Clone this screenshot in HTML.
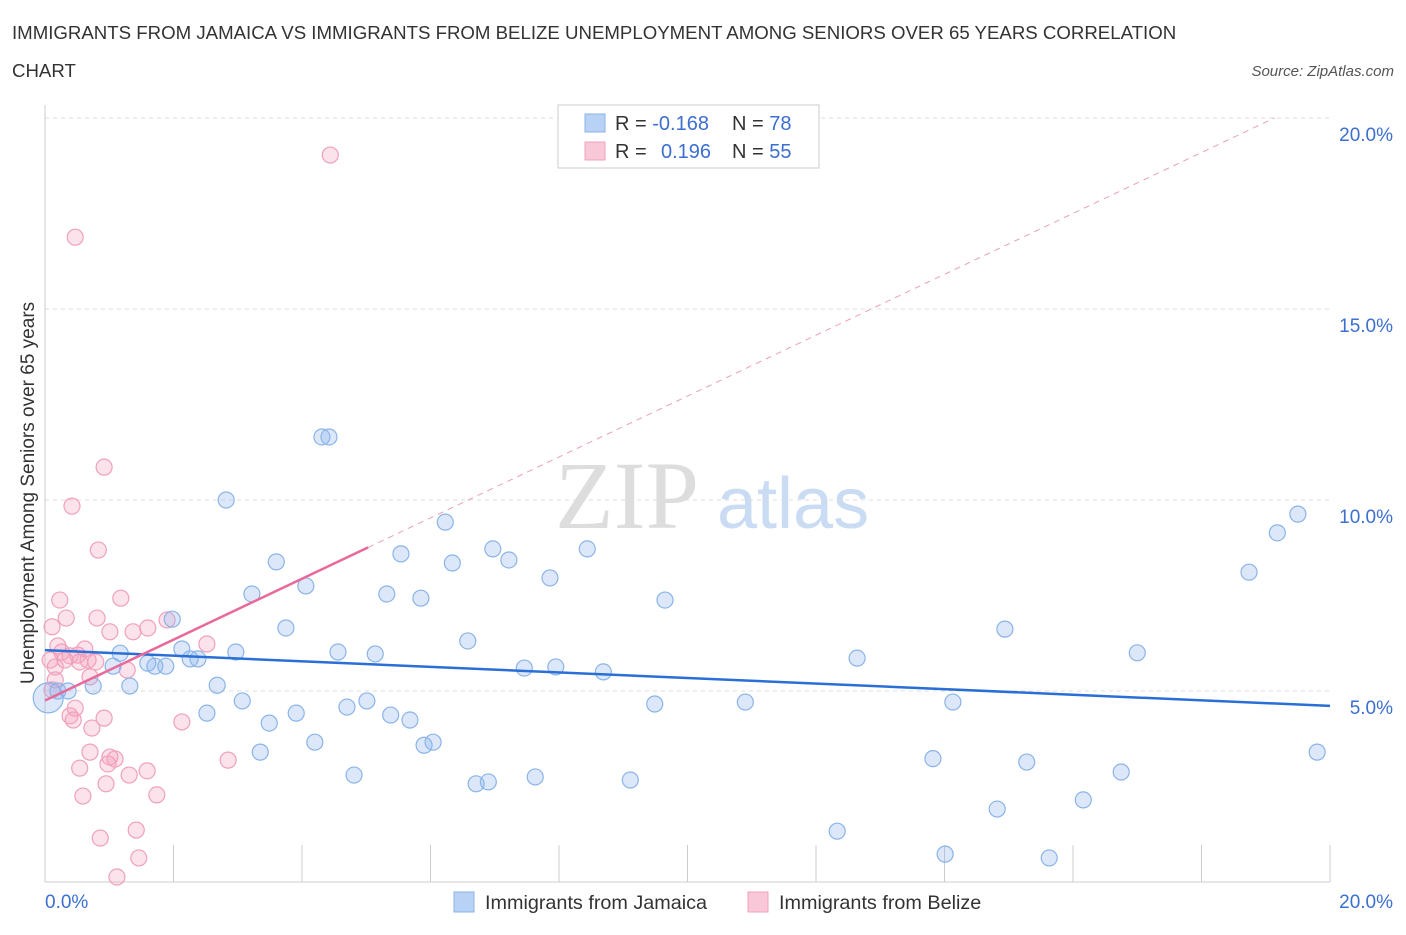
<!DOCTYPE html>
<html><head><meta charset="utf-8"><style>
body{margin:0;background:#fff;font-family:"Liberation Sans",sans-serif}
</style></head><body>
<svg id="c" width="1406" height="930" xmlns="http://www.w3.org/2000/svg">
<text x="12" y="39" font-size="18.65" fill="#333">IMMIGRANTS FROM JAMAICA VS IMMIGRANTS FROM BELIZE UNEMPLOYMENT AMONG SENIORS OVER 65 YEARS CORRELATION</text>
<text x="12" y="77" font-size="18.65" fill="#333">CHART</text>
<text x="1394" y="76" font-size="15" fill="#555" font-style="italic" text-anchor="end">Source: ZipAtlas.com</text>
<text x="555" y="528" font-size="96" fill="#ddd" font-family="Liberation Serif,serif">ZIP</text>
<text x="717" y="528" font-size="72" fill="#c9dcf3">atlas</text>
<g id="grid"></g><g id="pts"></g><g id="lines"></g>
<g>
<rect x="558" y="105" width="261" height="63" fill="#fff" stroke="#ccc"/>
<rect x="585" y="114" width="20" height="18" fill="#b8d2f5" stroke="#8ab4e8"/>
<rect x="585" y="142" width="20" height="18" fill="#f8c8d8" stroke="#f0a0bc"/>
<text x="615" y="130" font-size="20" fill="#333">R = <tspan fill="#3b6fd0">-0.168</tspan></text>
<text x="732" y="130" font-size="20" fill="#333">N = <tspan fill="#3b6fd0">78</tspan></text>
<text x="615" y="158" font-size="20" fill="#333">R = <tspan fill="#3b6fd0" x="661">0.196</tspan></text>
<text x="732" y="158" font-size="20" fill="#333">N = <tspan fill="#3b6fd0">55</tspan></text>
</g>
<g>
<rect x="454" y="892" width="20" height="20" fill="#b8d2f5" stroke="#8ab4e8"/>
<text x="485" y="909" font-size="19.8" fill="#333">Immigrants from Jamaica</text>
<rect x="748" y="892" width="20" height="20" fill="#f8c8d8" stroke="#f0a0bc"/>
<text x="779" y="909" font-size="19.8" fill="#333">Immigrants from Belize</text>
</g>
</svg>
<script>
const yTicks=[5,10,15,20];
const xTickLabels=["0.0%","20.0%"];
const jamX=[0.05,0.2,0.36,0.75,1.32,1.06,1.17,1.6,1.71,1.88,1.98,2.13,2.26,2.38,2.68,2.52,2.82,2.97,3.07,3.22,3.35,3.49,3.6,3.75,3.91,4.06,4.2,4.31,4.56,4.42,4.7,4.81,5.01,5.14,5.32,5.38,5.54,5.68,5.85,5.9,6.04,6.23,6.34,6.58,6.71,6.9,6.97,7.22,7.46,7.63,7.86,7.95,8.44,8.69,9.11,9.49,9.65,10.9,12.33,12.64,13.82,14.01,14.13,14.82,14.94,15.28,15.63,16.16,16.75,17.0,18.74,19.18,19.5,19.8];
const jamY=[4.82,5.0,5.0,5.13,5.13,5.65,5.99,5.73,5.65,5.65,6.88,6.1,5.84,5.84,5.15,4.42,10.0,6.02,4.74,7.54,3.4,4.16,8.38,6.65,4.42,7.75,3.66,11.65,6.02,11.65,4.58,2.8,4.74,5.97,7.54,4.37,8.59,4.24,7.43,3.58,3.66,9.42,8.35,6.31,2.57,2.62,8.72,8.43,5.6,2.75,7.96,5.63,8.72,5.5,2.67,4.66,7.38,4.71,1.33,5.86,3.23,0.73,4.71,1.91,6.62,3.14,0.63,2.15,2.88,6.0,8.11,9.14,9.63,3.4];
const belX=[4.44,0.47,0.92,0.42,0.83,0.11,0.23,0.33,0.81,1.18,1.01,1.37,1.6,1.9,2.52,0.2,0.39,0.62,0.31,0.16,0.54,0.7,0.79,1.28,0.92,0.39,0.47,0.73,0.44,0.7,0.54,1.01,0.98,1.09,1.59,1.31,0.95,0.59,1.74,2.13,2.85,0.86,1.42,1.46,1.12,0.16,0.08,0.26,0.51,0.67,0.11];
const belY=[19.03,16.88,10.86,9.84,8.69,6.68,7.38,6.91,6.91,7.43,6.55,6.55,6.65,6.86,6.23,6.18,5.92,6.1,5.81,5.63,5.76,5.37,5.76,5.55,4.29,4.35,4.55,4.03,4.24,3.4,2.98,3.27,3.09,3.22,2.91,2.8,2.57,2.25,2.28,4.19,3.19,1.15,1.36,0.63,0.13,5.29,5.81,6.02,5.94,5.81,5.03];
const jamTrend=[6.07,4.61]; // y at x=0 and x=20
const belTrend=[4.75,0.797]; // intercept, slope
const belSolidEnd=5.03;
const X=v=>45+v/20*1285, Y=v=>882-v*38.2;
const NS="http://www.w3.org/2000/svg";
function mk(t,a,p){const e=document.createElementNS(NS,t);for(const k in a)e.setAttribute(k,a[k]);p.appendChild(e);return e;}
const g=document.getElementById('grid');
yTicks.forEach(v=>{
 const l=mk('line',{x1:45,x2:1330,y1:Y(v),y2:Y(v),stroke:'#ddd','stroke-dasharray':'4,4'},g);
 
 
 const t=mk('text',{x:1393,y:Y(v)+23,'font-size':19,fill:'#3b6fd0','text-anchor':'end'},g);
 t.textContent=v.toFixed(1)+'%';
 
 
});
const ax=mk('line',{x1:45,x2:45,y1:105,y2:882,stroke:'#ccc'},g);


const xax=mk('line',{x1:45,x2:1330,y1:882,y2:882,stroke:'#ccc'},g);


for(let i=1;i<=10;i++){const tk=mk('line',{x1:X(i*2),x2:X(i*2),y1:845,y2:882,stroke:'#ccc'},g);
 
 }
[[0,'start',45],[20,'end',1393]].forEach((d,i)=>{const t=mk('text',{x:d[2],y:908,'font-size':19,fill:'#3b6fd0','text-anchor':d[1]},g);t.textContent=xTickLabels[i];
 
 });
const yt=mk('text',{x:0,y:0,'font-size':19,fill:'#333','text-anchor':'middle',transform:'translate(34,493) rotate(-90)'},g);
yt.textContent='Unemployment Among Seniors over 65 years';


const P=document.getElementById('pts');
belX.forEach((v,i)=>{const c=mk('circle',{cx:X(v),cy:Y(belY[i]),r:8,fill:'rgba(244,160,190,0.3)',stroke:'#f0a0bc','stroke-width':1.2},P);
 
 });
jamX.forEach((v,i)=>{const c=mk('circle',{cx:X(v),cy:Y(jamY[i]),r:i==0?15:8,fill:'rgba(140,180,240,0.3)',stroke:'#8ab4e8','stroke-width':1.2},P);
 
 });
const L=document.getElementById('lines');
const bl=mk('line',{x1:X(0),y1:Y(jamTrend[0]),x2:X(20),y2:Y(jamTrend[1]),stroke:'#2a6fd6','stroke-width':2.5},L);


const bY=x=>belTrend[0]+belTrend[1]*x;
const xe=(20-belTrend[0])/belTrend[1];
const pd=mk('line',{x1:X(belSolidEnd),y1:Y(bY(belSolidEnd)),x2:X(xe),y2:Y(bY(xe)),stroke:'#eaa0b8','stroke-width':1,'stroke-dasharray':'6,5'},L);


const pl=mk('line',{x1:X(0),y1:Y(bY(0)),x2:X(belSolidEnd),y2:Y(bY(belSolidEnd)),stroke:'#e8699a','stroke-width':2.5},L);


</script>
</body></html>
